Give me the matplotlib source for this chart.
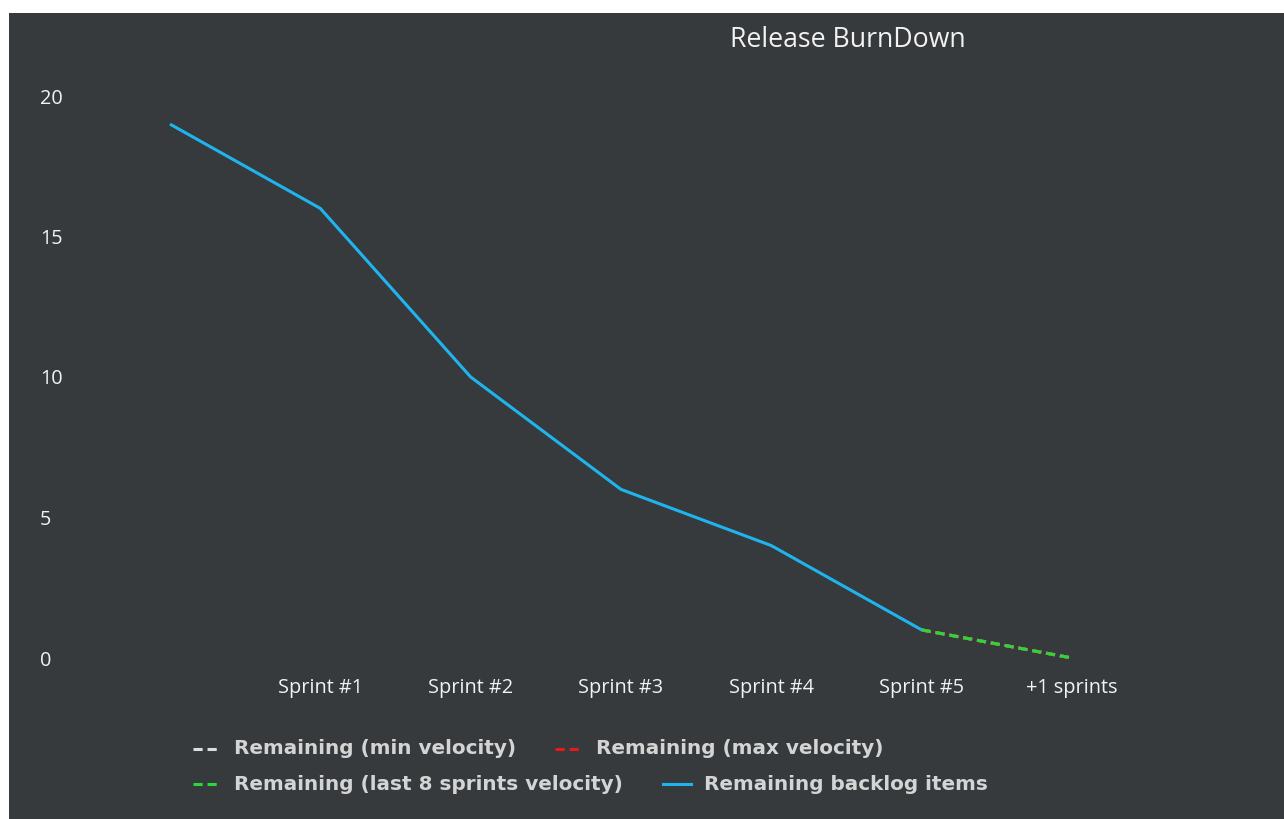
import matplotlib.pyplot as plt
from matplotlib.lines import Line2D

# data
categories = ["", "Sprint #1", "Sprint #2", "Sprint #3", "Sprint #4", "Sprint #5", "+1 sprints"]
remaining_backlog = [19, 16, 10, 6, 4, 1]
forecast_x = ["Sprint #5", "+1 sprints"]
forecast_min = [1, 0]
forecast_max = [1, 0]
forecast_last8 = [1, 0]
y_ticks = [0, 5, 10, 15, 20]

BG = "#363a3d"
TXT = "#f2f2f2"
W, H = 1284, 819

fig = plt.figure(figsize=(W / 100, H / 100), dpi=100, facecolor="white")
# dark panel (white strip on top/left like the screenshot)
fig.patches.append(plt.Rectangle((9 / W, 0), 1, 1 - 13 / H, transform=fig.transFigure,
                                 facecolor=BG, edgecolor="none", zorder=-10))

left, right = 94.8, 1147.2
y0px, y20px = 658, 96
ppu = (y0px - y20px) / 20
ylo, yhi = -0.5, 21
bottom_px = y0px + (0 - ylo) * ppu
top_px = y20px - (yhi - 20) * ppu
ax = fig.add_axes([left / W, 1 - bottom_px / H, (right - left) / W, (bottom_px - top_px) / H])
ax.set_facecolor("none")
for s in ax.spines.values():
    s.set_visible(False)

dash = (0, (3, 1.6))
xi = {c: i for i, c in enumerate(categories)}
ax.plot([xi[c] for c in forecast_x], forecast_min, color="#dddddd", lw=2.2, ls=dash)
ax.plot([xi[c] for c in forecast_x], forecast_max, color="#e8191b", lw=2.2, ls=dash)
ax.plot([xi[c] for c in forecast_x], forecast_last8, color="#28d83a", lw=2.2, ls=dash)
ax.plot(range(len(remaining_backlog)), remaining_backlog, color="#20b4ee", lw=2.2,
        solid_capstyle="butt")

ax.set_xlim(-0.5, len(categories) - 0.5)
ax.set_ylim(ylo, yhi)
ax.set_xticks(range(len(categories)), categories)
ax.set_yticks(y_ticks, [str(v) for v in y_ticks])
ax.tick_params(axis="both", length=0, colors=TXT, labelsize=14.3)
ax.tick_params(axis="x", pad=4)
ax.tick_params(axis="y", pad=(left - 40) * 0.72)
for lab in ax.get_yticklabels():
    lab.set_horizontalalignment("left")
for lab in ax.get_xticklabels() + ax.get_yticklabels():
    lab.set_fontfamily(["Open Sans", "DejaVu Sans"])

fig.text(848 / W, 1 - 40 / H, "Release BurnDown", ha="center", va="center",
         color=TXT, fontsize=19.2, family=["Open Sans", "DejaVu Sans"])

# legend, laid out like the original flow layout
legend_items = [
    ("Remaining (min velocity)", "#dddddd", "--", 193, 749),
    ("Remaining (max velocity)", "#e8191b", "--", 555, 749),
    ("Remaining (last 8 sprints velocity)", "#28d83a", "--", 193, 784),
    ("Remaining backlog items", "#20b4ee", "-", 663, 784),
]
for label, col, ls, xpx, ypx in legend_items:
    fig.add_artist(Line2D([xpx / W, (xpx + 28) / W], [1 - ypx / H, 1 - ypx / H],
                          transform=fig.transFigure, color=col, lw=2.2,
                          ls=dash if ls == "--" else "-"))
    fig.text((xpx + 41) / W, 1 - ypx / H, label, ha="left", va="center", color="#d4d4d4",
             fontsize=14.4, fontweight="bold", family=["DejaVu Sans"])

fig.savefig("out.png", dpi=100, facecolor=fig.get_facecolor())
